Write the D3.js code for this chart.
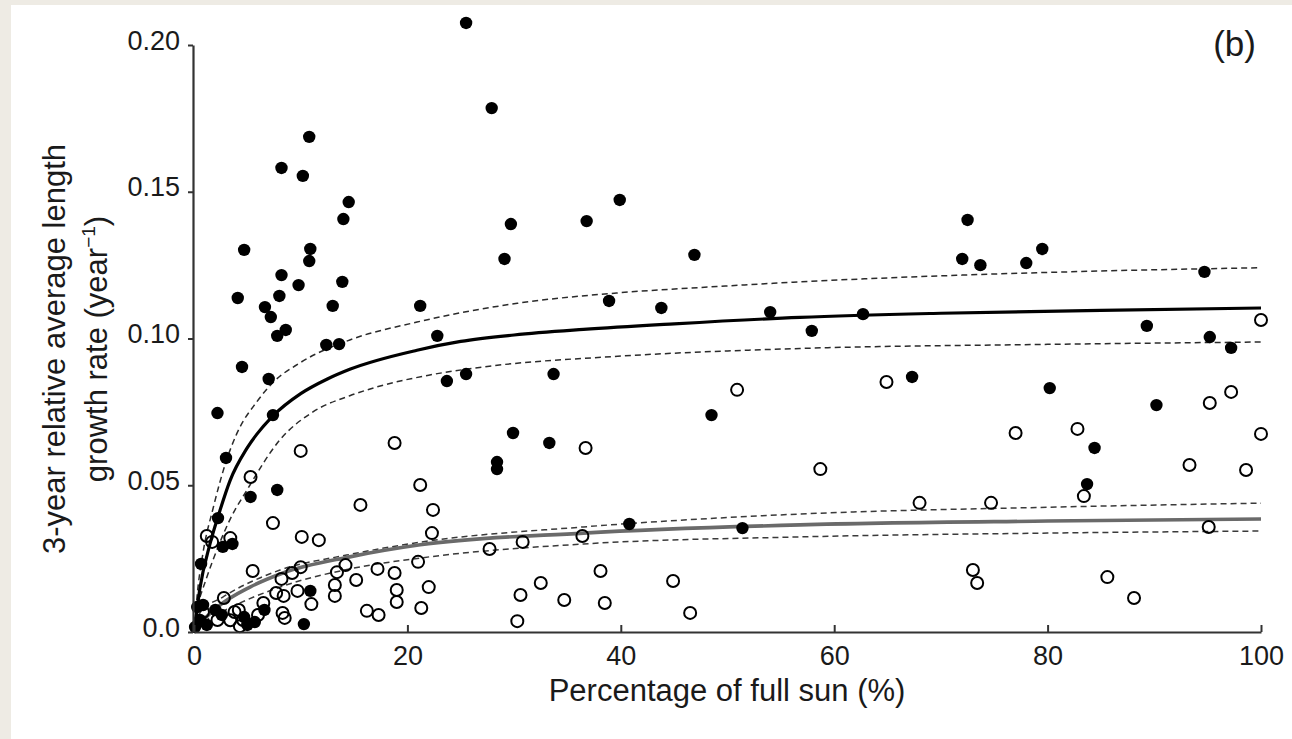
<!DOCTYPE html>
<html><head><meta charset="utf-8">
<script src="https://cdn.jsdelivr.net/npm/d3@7/dist/d3.min.js"></script>
<style>body{margin:0;background:#fff}svg{display:block}text{font-family:"Liberation Sans",Arial,sans-serif;fill:#1a1a1a}</style>
</head><body><svg id="c" width="1292" height="739"></svg>
<script>
// ---- data ----
const xTicks = [0, 20, 40, 60, 80, 100];
const xTickLabels = ["0", "20", "40", "60", "80", "100"];
const yTicks = [0, 0.05, 0.10, 0.15, 0.20];
const yTickLabels = ["0.0", "0.05", "0.10", "0.15", "0.20"];

const filledX = [25.5,27.9,10.8,8.2,10.2,14.5,14.0,39.9,29.7,36.8,72.5,4.7,10.9,10.8,29.1,46.9,72.0,73.7,78.0,79.5,94.7,8.2,9.8,13.9,4.1,8.0,38.9,43.8,21.2,6.65,7.2,13.0,54.0,62.7,57.9,89.3,95.2,97.2,7.8,8.6,22.8,12.4,13.6,4.5,7.0,23.7,25.5,33.7,67.3,80.2,90.2,48.5,29.9,33.3,28.4,28.4,84.4,83.7,40.8,51.4,2.2,7.4,3.0,5.3,7.8,2.25,2.7,3.6,0.66,10.9,10.3,0.3,0.85,1.2,2.0,2.6,4.7,5.0,5.7,6.6,0.1,0.56];
const filledY = [0.2075,0.1785,0.1687,0.1581,0.1554,0.1465,0.1407,0.1472,0.1390,0.1400,0.1404,0.1302,0.1305,0.1264,0.1271,0.1285,0.1271,0.1250,0.1257,0.1305,0.1227,0.1216,0.1182,0.1193,0.1138,0.1145,0.1128,0.1104,0.1111,0.1107,0.1073,0.1111,0.1090,0.1083,0.1026,0.1043,0.1005,0.0968,0.1009,0.1029,0.1009,0.0978,0.0981,0.0903,0.0862,0.0855,0.0879,0.0879,0.0869,0.0831,0.0773,0.0739,0.0678,0.0644,0.0579,0.0555,0.0627,0.0504,0.0368,0.0354,0.0746,0.0739,0.0593,0.0460,0.0484,0.0388,0.0290,0.0300,0.0232,0.0140,0.0027,0.0085,0.0092,0.0024,0.0075,0.0058,0.0051,0.0024,0.0034,0.0075,0.0017,0.0041];

const openX = [100,64.9,50.9,95.2,97.2,77.0,82.8,100,36.7,18.8,10.0,93.3,98.6,58.7,5.3,83.4,68.0,74.7,15.6,21.2,22.4,7.4,95.1,36.4,30.8,27.7,22.3,10.1,11.7,1.2,1.7,3.4,21.0,14.2,13.4,10.0,9.2,5.5,15.2,17.2,18.8,13.2,13.2,19.0,19.0,22.0,21.3,16.2,17.3,11.0,9.7,8.4,8.3,8.5,30.6,30.3,32.5,34.7,38.1,38.5,44.9,46.5,73.0,73.4,85.6,88.1,2.8,4.2,6.5,7.7,6.0,4.6,2.2,0.84,8.2,3.8,4.3,3.4];
const openY = [0.1063,0.0852,0.0825,0.0780,0.0818,0.0678,0.0692,0.0675,0.0627,0.0644,0.0617,0.0569,0.0552,0.0555,0.0528,0.0463,0.0440,0.0440,0.0433,0.0501,0.0416,0.0371,0.0358,0.0327,0.0307,0.0283,0.0337,0.0324,0.0313,0.0327,0.0307,0.0320,0.0239,0.0228,0.0204,0.0221,0.0201,0.0208,0.0177,0.0215,0.0201,0.0160,0.0123,0.0143,0.0102,0.0153,0.0082,0.0072,0.0058,0.0095,0.0140,0.0123,0.0065,0.0048,0.0126,0.0037,0.0167,0.0109,0.0208,0.0099,0.0174,0.0065,0.0211,0.0167,0.0187,0.0116,0.0116,0.0075,0.0099,0.0133,0.0058,0.0041,0.0041,0.0068,0.0181,0.0068,0.0020,0.0040];

// fitted curves
const blackFitX = [0,0.15,0.56,1.5,2.44,3.37,5.0,7.4,10,12.5,14.6,20.9,25,30,36.5,45,56.8,70,85,100];
const blackFitY = [0,0.004,0.015,0.030,0.0415,0.0515,0.0628,0.0736,0.0812,0.0862,0.0895,0.0960,0.0990,0.1012,0.1031,0.1050,0.1072,0.1086,0.1096,0.1104];
const blackUpX = [0.1,0.28,0.84,1.78,3.0,4.0,5.9,7.4,9.93,14.6,20.9,30.3,39.6,49.0,56.8,72,85,100];
const blackUpY = [0.004,0.0119,0.0269,0.042,0.058,0.0675,0.0785,0.085,0.0917,0.0995,0.1056,0.1120,0.1155,0.1177,0.1193,0.1216,0.1230,0.1241];
const blackLoX = [0.56,1.78,3.37,4.97,8.06,11.15,14.6,17.15,22,27.1,40,56.8,80,100];
const blackLoY = [0.0119,0.0245,0.0383,0.0484,0.0655,0.0750,0.0805,0.0835,0.0875,0.0903,0.0940,0.0966,0.0980,0.0988];
const grayFitX = [0,0.5,2.2,5.25,8.34,14.6,21.2,36.5,56.8,80,100];
const grayFitY = [0,0.0025,0.0085,0.0153,0.0201,0.0256,0.0297,0.0337,0.0365,0.0378,0.0385];
const grayUpX = [0.2,0.56,2.7,8.06,14.3,21.2,36.5,56.8,80,100];
const grayUpY = [0.002,0.0065,0.0119,0.0211,0.0262,0.0306,0.0358,0.0402,0.0425,0.0439];
const grayLoX = [0.3,1.0,2.44,8.06,14.6,21.2,36.5,56.8,80,100];
const grayLoY = [0.001,0.0035,0.0065,0.0153,0.0215,0.0252,0.0300,0.0324,0.0337,0.0344];

const xLabel = "Percentage of full sun (%)";
const yLabel1 = "3-year relative average length";
const panelLabel = "(b)";

// ---- drawing ----
const svg = d3.select("#c");
svg.append("rect").attr("width",1292).attr("height",739).attr("fill","#fff");
svg.append("rect").attr("width",11).attr("height",739).attr("fill","#eeebe4");
svg.append("rect").attr("width",1292).attr("height",5).attr("fill","#eeebe4");

const x = d3.scaleLinear().domain([0,100]).range([194,1261]);
const y = d3.scaleLinear().domain([0,0.2]).range([632,45]);

const line = d3.line().x(d=>x(d[0])).y(d=>y(d[1])).curve(d3.curveMonotoneX);
const zip = (a,b)=>a.map((v,i)=>[v,b[i]]);

const curves = [
  {d: zip(blackUpX,blackUpY), c:"#2b2b2b", w:1.5, dash:"6,4"},
  {d: zip(blackLoX,blackLoY), c:"#2b2b2b", w:1.5, dash:"6,4"},
  {d: zip(grayUpX,grayUpY), c:"#3a3a3a", w:1.5, dash:"6,4"},
  {d: zip(grayLoX,grayLoY), c:"#3a3a3a", w:1.5, dash:"6,4"},
  {d: zip(grayFitX,grayFitY), c:"#6a6a6a", w:3.6, dash:null},
  {d: zip(blackFitX,blackFitY), c:"#000", w:3.2, dash:null}
];
const g = svg.append("g");
curves.forEach(cv=>{
  g.append("path").attr("d",line(cv.d)).attr("fill","none").attr("stroke",cv.c)
   .attr("stroke-width",cv.w).attr("stroke-dasharray",cv.dash);
});

svg.append("g").selectAll("circle").data(zip(openX,openY)).join("circle")
  .attr("cx",d=>x(d[0])).attr("cy",d=>y(d[1])).attr("r",6)
  .attr("fill","none").attr("stroke","#000").attr("stroke-width",2);
svg.append("g").selectAll("circle").data(zip(filledX,filledY)).join("circle")
  .attr("cx",d=>x(d[0])).attr("cy",d=>y(d[1])).attr("r",6.2).attr("fill","#000");

// axes
const yAxis = d3.axisLeft(y).tickValues(yTicks).tickFormat((d,i)=>yTickLabels[i]).tickSizeInner(5).tickSizeOuter(0).tickPadding(8);
const ya = svg.append("g").attr("transform","translate(193,0)").call(yAxis);
ya.select(".domain").attr("stroke","#333").attr("stroke-width",2.2);
ya.selectAll(".tick line").attr("stroke","#333").attr("stroke-width",2);
ya.selectAll(".tick text").attr("font-size",27).attr("font-family","Liberation Sans, Arial, sans-serif").attr("fill","#1a1a1a").attr("dy","0.15em");

const xAxis = d3.axisBottom(x).tickValues(xTicks).tickFormat((d,i)=>xTickLabels[i]).tickSizeInner(-7).tickSizeOuter(0).tickPadding(14);
const xa = svg.append("g").attr("transform","translate(0,632)").call(xAxis);
xa.select(".domain").attr("stroke","#333").attr("stroke-width",2.2);
xa.selectAll(".tick line").attr("stroke","#333").attr("stroke-width",2);
xa.selectAll(".tick text").attr("font-size",27).attr("font-family","Liberation Sans, Arial, sans-serif").attr("fill","#1a1a1a").attr("dy","0.71em");

// titles
svg.append("text").attr("x",727).attr("y",701).attr("text-anchor","middle").attr("font-size",31).text(xLabel);
svg.append("text").attr("transform","translate(65,349) rotate(-90)").attr("text-anchor","middle").attr("font-size",31).text(yLabel1);
const t2 = svg.append("text").attr("transform","translate(107,349) rotate(-90)").attr("text-anchor","middle").attr("font-size",31);
t2.append("tspan").text("growth rate (year");
t2.append("tspan").attr("font-size",19).attr("dy",-12).text("\u22121");
t2.append("tspan").attr("dy",12).text(")");
svg.append("text").attr("x",1256).attr("y",56).attr("text-anchor","end").attr("font-size",35).text(panelLabel);
</script></body></html>
